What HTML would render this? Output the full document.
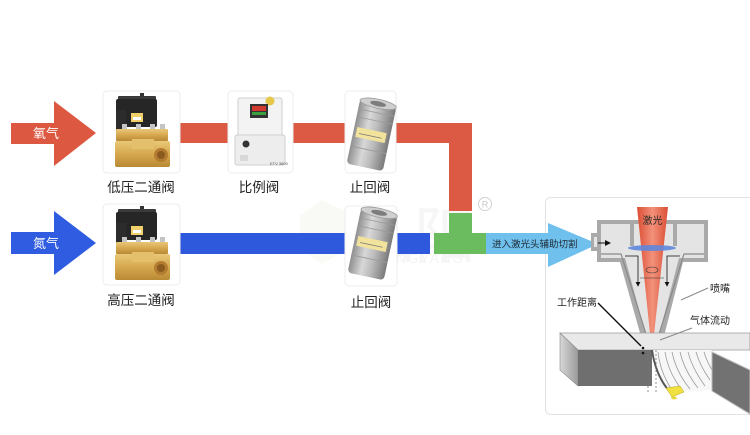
<!DOCTYPE html>
<html><head><meta charset="utf-8"><style>
html,body{margin:0;padding:0;background:#fff;}
svg{display:block;}
text{font-family:"Liberation Sans","Noto Sans CJK SC",sans-serif;}
</style></head><body>
<svg width="750" height="435" viewBox="0 0 750 435" xmlns="http://www.w3.org/2000/svg">
<defs>
<linearGradient id="brass" x1="0" y1="0" x2="0" y2="1"><stop offset="0" stop-color="#e9c878"/><stop offset="0.5" stop-color="#d6a84e"/><stop offset="1" stop-color="#b98a34"/></linearGradient>
<linearGradient id="silver" x1="0" y1="0" x2="1" y2="0"><stop offset="0" stop-color="#8f8f8f"/><stop offset="0.35" stop-color="#d8d8d8"/><stop offset="0.6" stop-color="#bcbcbc"/><stop offset="1" stop-color="#7a7a7a"/></linearGradient>
<linearGradient id="beam" x1="0" y1="0" x2="1" y2="0"><stop offset="0" stop-color="#dc4e34"/><stop offset="0.5" stop-color="#f2917a"/><stop offset="1" stop-color="#dc4e34"/></linearGradient>
<linearGradient id="side" x1="0" y1="0" x2="1" y2="0"><stop offset="0" stop-color="#d8d8d8"/><stop offset="1" stop-color="#9a9a9a"/></linearGradient>
<marker id="ah" markerWidth="6" markerHeight="6" refX="5" refY="3" orient="auto"><path d="M0,0 L6,3 L0,6 z" fill="#111"/></marker>
</defs>

<!-- watermark -->
<g opacity="0.35">
<polygon points="300,215 322,200 346,212 346,250 322,264 300,250" fill="#eef1e6"/>
<text x="352" y="258" font-size="62" fill="#e6e6e6">弘阳</text>
<text x="372" y="263" font-size="14" fill="#e0e0e0" letter-spacing="1.5">HONGYANG</text>
</g>
<circle cx="485" cy="204" r="6.5" fill="none" stroke="#d0d0d0" stroke-width="1"/>
<text x="485" y="207.5" font-size="9" fill="#c8c8c8" text-anchor="middle">R</text>

<!-- pipes -->
<rect x="178" y="123" width="294" height="20" fill="#dc5a43"/>
<rect x="449" y="123" width="23" height="88" fill="#dc5a43"/>
<rect x="178" y="233" width="252" height="21" fill="#2f59dd"/>
<rect x="449" y="213" width="23" height="21" fill="#6bbb5f"/>
<rect x="434" y="233" width="52" height="21" fill="#6bbb5f"/>

<!-- input arrows -->
<polygon points="11,123 54,123 54,101 96,133 54,166 54,144 11,144" fill="#dd5841"/>
<text x="33" y="138" font-size="13" fill="#fff">氧气</text>
<polygon points="11,232 54,232 54,211 96,243 54,275 54,254 11,254" fill="#2f5ce0"/>
<text x="33" y="248" font-size="13" fill="#fff">氮气</text>

<!-- cards -->
<g fill="#fff" stroke="#ececec" stroke-width="1">
<rect x="103" y="91" width="77" height="82" rx="4"/>
<rect x="228" y="91" width="65" height="82" rx="4"/>
<rect x="345" y="91" width="51" height="82" rx="4"/>
<rect x="103" y="204" width="77" height="81" rx="4"/>
<rect x="345" y="206" width="52" height="80" rx="4"/>
</g>

<!-- solenoid valves -->
<g id="sv">
<rect x="140" y="93" width="4" height="5" fill="#333"/>
<rect x="118" y="96" width="38" height="5" rx="1" fill="#3a3a3a"/>
<rect x="116" y="99" width="41" height="28" rx="2" fill="#262626"/>
<rect x="116" y="110" width="10" height="24" fill="#2c2c2c"/>
<rect x="131" y="113" width="12" height="9" fill="#efd06a"/>
<rect x="133" y="117" width="8" height="3" fill="#fff"/>
<g fill="#c4c4c4"><rect x="122" y="124" width="5" height="6"/><rect x="136" y="124" width="5" height="6"/><rect x="150" y="124" width="5" height="6"/><rect x="160" y="124" width="5" height="6"/></g>
<rect x="116" y="129" width="52" height="12" rx="1" fill="url(#brass)"/>
<rect x="115" y="141" width="55" height="26" rx="2" fill="url(#brass)"/>
<rect x="132" y="139" width="22" height="10" fill="#e4bf6c"/>
<circle cx="161" cy="155" r="7" fill="#b47c30"/>
<circle cx="161" cy="155" r="4" fill="#8a5a1e"/>
</g>
<use href="#sv" transform="translate(0,113)"/>

<!-- ratio valve -->
<rect x="238" y="98" width="44" height="40" rx="2" fill="#f3f3f3" stroke="#cfcfcf"/>
<rect x="235" y="135" width="50" height="30" rx="2" fill="#ededed" stroke="#cfcfcf"/>
<circle cx="270" cy="101" r="4.5" fill="#e8c84a"/>
<rect x="250" y="104" width="18" height="14" fill="#333"/>
<rect x="252" y="106" width="14" height="5" fill="#d23a30"/>
<rect x="252" y="112" width="14" height="3" fill="#3aa040"/>
<circle cx="246" cy="144" r="3.5" fill="#333"/>
<rect x="240" y="155" width="8" height="6" fill="#d8d8d8"/>
<text x="270" y="165" font-size="4" fill="#555">ETV 3800</text>

<!-- check valves -->
<g id="cv" transform="rotate(12 371 135)">
<rect x="353" y="102" width="37" height="66" rx="4" fill="url(#silver)"/>
<g stroke="#9a9a9a" stroke-width="0.8"><line x1="353" y1="112" x2="390" y2="112"/><line x1="353" y1="120" x2="390" y2="120"/><line x1="353" y1="150" x2="390" y2="150"/></g>
<ellipse cx="371.5" cy="103" rx="18.5" ry="4.5" fill="#cfcfcf" stroke="#999" stroke-width="0.8"/>
<ellipse cx="371.5" cy="103" rx="8" ry="2.5" fill="#7d7d7d"/>
<rect x="356" y="130" width="30" height="10" fill="#f1e39c"/>
<line x1="359" y1="136" x2="382" y2="136" stroke="#777" stroke-width="0.8"/>
</g>
<use href="#cv" transform="translate(1,109)"/>

<!-- labels -->
<g font-size="13.5" fill="#222" text-anchor="middle">
<text x="141" y="192">低压二通阀</text>
<text x="259" y="192">比例阀</text>
<text x="370" y="192">止回阀</text>
<text x="141" y="305">高压二通阀</text>
<text x="371" y="307">止回阀</text>
</g>

<!-- laser panel -->
<rect x="545.5" y="197.5" width="212" height="217" rx="5" fill="#fff" stroke="#e3e3e3"/>

<!-- light blue arrow -->
<polygon points="486,233 548,233 548,223 598,244 548,267 548,254 486,254" fill="#6fc0ec"/>
<text x="492" y="247.5" font-size="9.5" fill="#1e2a35">进入激光头辅助切割</text>

<!-- nozzle -->
<rect x="591" y="233" width="8" height="18" fill="#aaa"/>
<rect x="594" y="237" width="8" height="10" fill="#e6e6e6"/>
<polygon points="597,220 708,220 708,262 683,262 663,340 642,340 620,262 597,262" fill="#a9a9a9"/>
<polygon points="601,224 704,224 704,258 679,258 659,335 646,335 625,258 601,258" fill="#e4e4e4"/>
<rect x="630" y="220" width="4" height="26" fill="#a9a9a9"/>
<rect x="673" y="220" width="4" height="26" fill="#a9a9a9"/>
<path d="M601,254 L621,254 L646,334 M704,254 L684,254 L659,334" fill="none" stroke="#8a8a8a" stroke-width="1.2"/>
<polygon points="637,207 668,207 652,353" fill="url(#beam)"/>
<ellipse cx="652" cy="248" rx="24" ry="3" fill="#5f86dc" opacity="0.9"/>
<text x="652.5" y="224" font-size="10" fill="#2a2a2a" text-anchor="middle">激光</text>
<line x1="598" y1="243" x2="610" y2="243" stroke="#111" stroke-width="1" marker-end="url(#ah)"/>
<path d="M625,256 L638,256 L638,286" fill="none" stroke="#111" stroke-width="0.8" marker-end="url(#ah)"/>
<path d="M680,256 L667,256 L667,286" fill="none" stroke="#111" stroke-width="0.8" marker-end="url(#ah)"/>
<ellipse cx="652" cy="270" rx="6" ry="3" fill="none" stroke="#333" stroke-width="0.6"/>
<line x1="640" y1="278" x2="664" y2="278" stroke="#333" stroke-width="0.6"/>

<!-- workpiece -->
<polygon points="560,333 750,333 750,350 578,350" fill="#e9e9e9" stroke="#9a9a9a" stroke-width="0.8"/>
<polygon points="560,333 578,350 578,386 560,370" fill="url(#side)" stroke="#8a8a8a" stroke-width="0.6"/>
<rect x="578" y="350" width="74" height="36" fill="#6f6f6f"/>
<polygon points="652,350 712,350 712,390 680,392 660,388" fill="#f7f7f7"/>
<g fill="none" stroke="#9a9a9a" stroke-width="0.8">
<path d="M658,352 Q660,372 672,390"/><path d="M665,352 Q668,372 682,390"/><path d="M672,352 Q676,372 690,389"/><path d="M680,352 Q684,370 698,388"/><path d="M688,352 Q692,368 705,386"/><path d="M696,352 Q700,366 710,380"/><path d="M704,352 Q707,362 712,370"/>
</g>
<path d="M652,350 Q656,378 672,394" fill="none" stroke="#555" stroke-width="2"/>
<polygon points="712,352 750,370 750,414 712,391" fill="#727272" stroke="#bdbdbd" stroke-width="1"/>
<g stroke="#777" stroke-width="0.8" stroke-dasharray="2,2"><line x1="648" y1="350" x2="648" y2="392"/><line x1="656" y1="350" x2="656" y2="392"/></g>
<polygon points="666,388 680,386 684,392 672,397" fill="#f0e040" stroke="#b8a820" stroke-width="0.5"/>
<ellipse cx="674" cy="398" rx="3" ry="1.5" fill="#e8d840"/>

<!-- annotations -->
<line x1="598" y1="303" x2="641" y2="346" stroke="#111" stroke-width="1.4"/>
<circle cx="643" cy="348" r="1.3" fill="#111"/><circle cx="643" cy="353" r="1.3" fill="#111"/>
<line x1="681" y1="300" x2="708" y2="288" stroke="#888" stroke-width="1"/>
<line x1="660" y1="340" x2="692" y2="328" stroke="#888" stroke-width="1"/>
<g font-size="10" fill="#222">
<text x="710" y="292">喷嘴</text>
<text x="557" y="306">工作距离</text>
<text x="690" y="324">气体流动</text>
</g>
</svg>
</body></html>
